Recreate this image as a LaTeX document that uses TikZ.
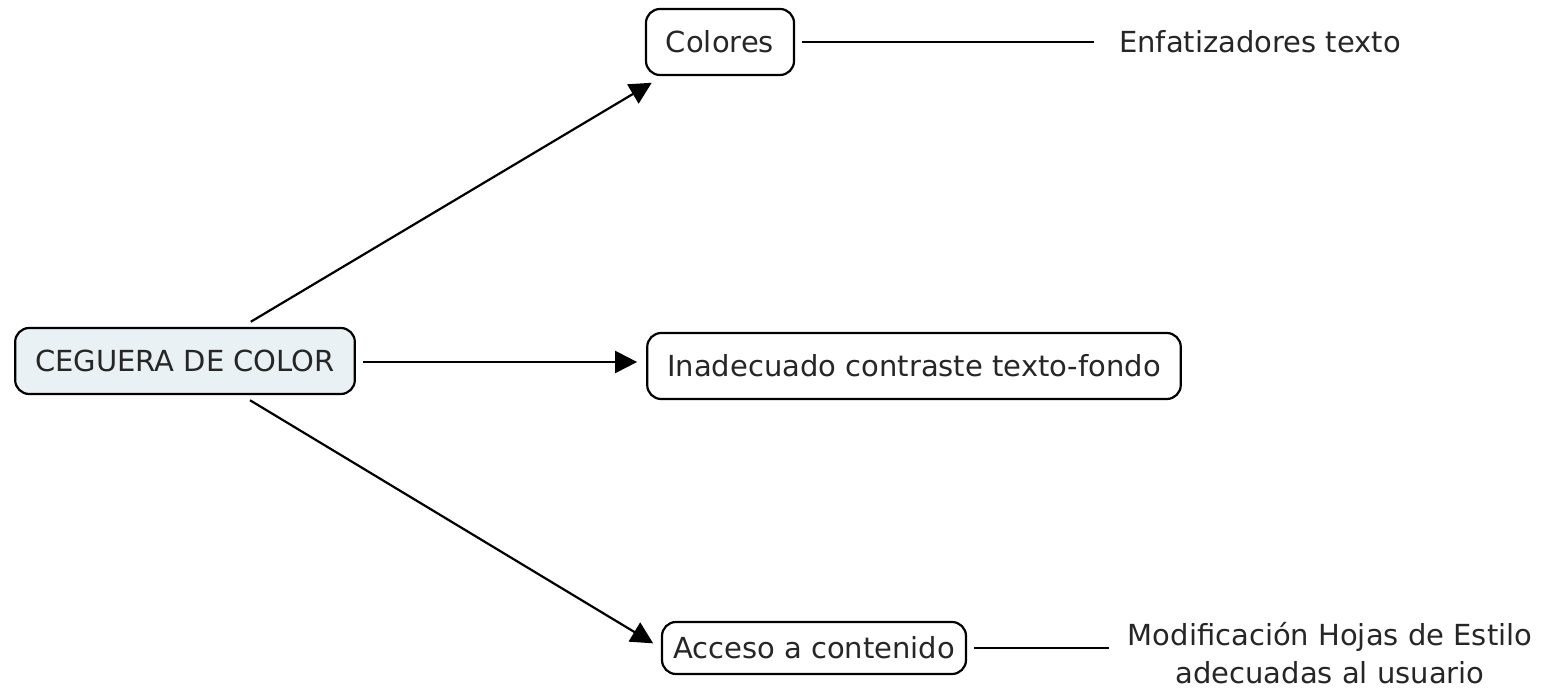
\documentclass[tikz,border=0pt]{standalone}
\usepackage{fontspec}
\setmainfont{DejaVu Sans}
\usetikzlibrary{arrows.meta}
\definecolor{conceptfill}{HTML}{EAF1F4}
\definecolor{inkgray}{HTML}{262626}
\tikzset{
    %Define standard arrow tip
    >={Triangle[length=11pt,width=11pt]},
    %Define style for concept boxes
    concept/.style={
           rectangle,
           rounded corners=7pt,
           draw=black, line width=1.1pt,
           inner xsep=10pt,
           minimum height=33pt,
           font=\fontsize{14.5}{17}\selectfont,
           text=inkgray,
           fill=white,
           text centered},
    rootconcept/.style={
           concept,
           fill=conceptfill},
    %Define style for plain texts
    phrase/.style={
           inner sep=0pt,
           font=\fontsize{14.5}{19}\selectfont,
           text=inkgray,
           align=center},
    % Define connector styles
    pil/.style={
           ->,
           line width=1.1pt,
           shorten <=5pt,
           shorten >=4.5pt},
    link/.style={
           line width=1.1pt,
           shorten <=3.5pt}
}
\begin{document}
\begin{tikzpicture}[x=0.5pt,y=-0.5pt]
\useasboundingbox (0,0) rectangle (1553,688);
 %nodes
\node[rootconcept](ceguera) at (185,361){CEGUERA DE COLOR};
\node[concept](colores) at (720,42){Colores};
\node[concept](inadecuado) at (914,366){Inadecuado contraste texto-fondo};
\node[concept, inner xsep=5.5pt, minimum height=26pt](acceso) at (814,648){Acceso a contenido};
\node[phrase](enfatizadores) at (1260,42){Enfatizadores texto};
\node[phrase](modificacion) at (1330,653){Modificación Hojas de Estilo\\adecuadas al usuario};
 %connectors
\draw[pil, shorten >=6.5pt] (ceguera) -- (colores);
\draw[pil, shorten <=3.5pt] (ceguera.east |- 0,362) -- (inadecuado.west |- 0,362);
\draw[pil] (ceguera) -- (acceso.west);
\draw[link, shorten >=12.5pt] (colores) -- (enfatizadores);
\draw[link, shorten >=9pt] (acceso) -- (acceso -| modificacion.west);
\end{tikzpicture}
\end{document}
